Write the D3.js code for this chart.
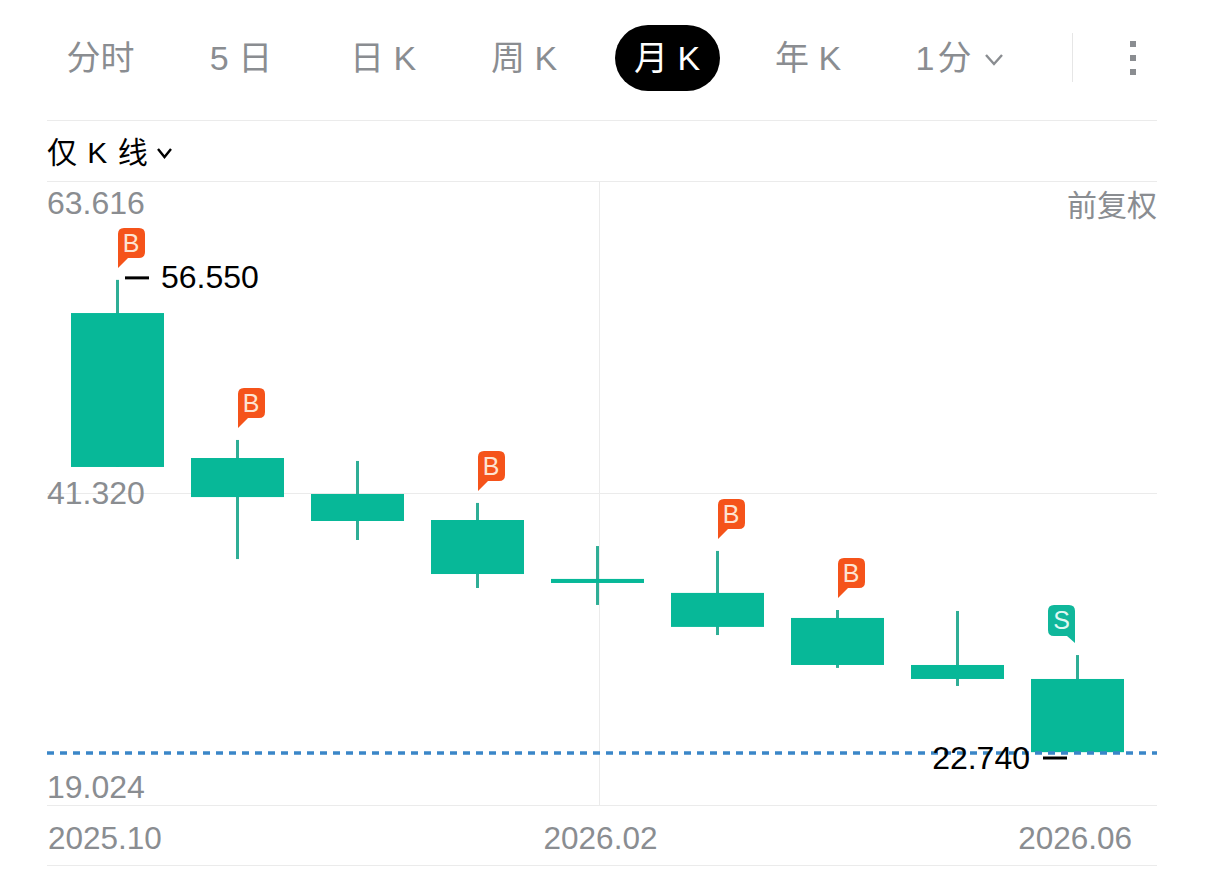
<!DOCTYPE html>
<html><head><meta charset="utf-8">
<script src="https://cdn.jsdelivr.net/npm/d3@7/dist/d3.min.js"></script>
<style>html,body{margin:0;padding:0;background:#fff}svg{display:block}text{font-family:"Liberation Sans","Noto Sans CJK SC",sans-serif}</style>
</head><body><svg id="c" width="1205" height="869"></svg>
<script>
const months=["2025.10","2025.11","2025.12","2026.01","2026.02","2026.03","2026.04","2026.05","2026.06"];
const opens=[54.18,43.82,41.25,39.39,35.18,34.18,32.39,29.03,28.03];
const closes=[43.18,41.03,39.32,35.53,34.89,31.75,29.03,28.03,22.80];
const highs=[56.55,45.11,43.61,40.61,37.53,37.18,32.96,32.89,29.74];
const lows=[43.18,36.60,37.96,34.53,33.32,31.17,28.82,27.53,22.74];
const signals=["B","B",null,"B",null,"B","B",null,"S"];
const yTicks=[63.616,41.320,19.024];
const xTickLabels=["2025.10","2026.02","2026.06"];
const tabs=["分时","5 日","日 K","周 K","月 K","年 K","1分"];
const activeTab="月 K";
const maxLabel=56.550, minLabel=22.740;

const GREY="#8a8d91",GRID="#ebebeb",GREEN="#07b898",WICK="#2fae96",ORANGE="#f5531a",S_GREEN="#10b79b";
const svg=d3.select("#c");
const L=47,R=1157;
const x=d3.scaleBand().domain(months).range([57.5,1137.5]).paddingInner(0.225).paddingOuter(0.1125);
const y=d3.scaleLinear().domain([19.024,63.616]).range([805,181]);
const cx=m=>x(m)+x.bandwidth()/2;

// frame rules
[120,181,493,805,865].forEach(v=>svg.append("line").attr("x1",L).attr("x2",R).attr("y1",v+.5).attr("y2",v+.5).attr("stroke",GRID));
svg.append("line").attr("x1",599.5).attr("x2",599.5).attr("y1",181).attr("y2",805).attr("stroke",GRID);

// tabs
const tabX=[100.5,241,383,524,667,808,945];
svg.append("rect").attr("x",615).attr("y",25).attr("width",105).attr("height",66).attr("rx",33).attr("fill","#000");
svg.selectAll(".tab").data(tabs).join("text").attr("class","tab")
  .attr("x",(d,i)=>tabX[i]).attr("y",70).attr("text-anchor","middle").attr("font-size",34)
  .attr("letter-spacing",d=>d==="1分"?3:0)
  .attr("fill",d=>d===activeTab?"#fff":GREY).text(d=>d);
const chev=(px,py,w,h,c,sw)=>svg.append("path").attr("d",`M${px},${py}L${px+w/2},${py+h}L${px+w},${py}`).attr("fill","none").attr("stroke",c).attr("stroke-width",sw);
chev(986,55,16,9,GREY,2.4);
svg.append("line").attr("x1",1072.5).attr("x2",1072.5).attr("y1",33).attr("y2",82).attr("stroke","#e6e6e6");
[44,58,72].forEach(v=>svg.append("rect").attr("x",1130).attr("y",v-3).attr("width",6).attr("height",6).attr("fill",GREY));

// selector
svg.append("text").attr("x",47).attr("y",163).attr("font-size",30).attr("letter-spacing",1).attr("fill","#000").text("仅 K 线");
chev(158,149,13,8,"#000",2.4);
svg.append("text").attr("x",1157).attr("y",216).attr("text-anchor","end").attr("font-size",30).attr("fill",GREY).text("前复权");

// y labels
const yLabelPos=[214,504,798];
svg.selectAll(".yl").data(yTicks).join("text").attr("class","yl").attr("x",47).attr("y",(d,i)=>yLabelPos[i])
  .attr("font-size",32).attr("fill",GREY).text(d=>d.toFixed(3));
// x labels
const anchors=[["start",48],["middle",600.5],["end",1132]];
svg.selectAll(".xl").data(xTickLabels).join("text").attr("class","xl").attr("x",(d,i)=>anchors[i][1]).attr("y",849)
  .attr("text-anchor",(d,i)=>anchors[i][0]).attr("font-size",31.5).attr("fill",GREY).text(d=>d);

// candles
const idx=d3.range(months.length);
svg.selectAll(".wick").data(idx).join("line").attr("class","wick")
  .attr("x1",i=>cx(months[i])).attr("x2",i=>cx(months[i])).attr("y1",i=>y(highs[i])).attr("y2",i=>y(lows[i]))
  .attr("stroke",WICK).attr("stroke-width",3);
svg.selectAll(".body").data(idx).join("rect").attr("class","body")
  .attr("x",i=>x(months[i])).attr("width",x.bandwidth())
  .attr("y",i=>y(opens[i])).attr("height",i=>y(closes[i])-y(opens[i])).attr("fill",GREEN);

// dashed price line
svg.append("line").attr("x1",L).attr("x2",R).attr("y1",y(minLabel)).attr("y2",y(minLabel))
  .attr("stroke","#3a86c8").attr("stroke-width",3.5).attr("stroke-dasharray","7 6");

// signal bubbles
idx.filter(i=>signals[i]).forEach(i=>{
  const s=signals[i],tipX=cx(months[i])+(s==="B"?0.5:-2.5),tipY=y(highs[i])-12;
  const g=svg.append("g");
  const w=27,r=6;
  const d = s==="B"
   ? `M${tipX},${tipY}V${tipY-40+r}q0,${-r} ${r},${-r}H${tipX+w-r}q${r},0 ${r},${r}V${tipY-10-r}q0,${r} ${-r},${r}H${tipX+10}Z`
   : `M${tipX},${tipY}L${tipX-8},${tipY-7}H${tipX-w+r}q${-r},0 ${-r},${-r}V${tipY-38+r}q0,${-r} ${r},${-r}H${tipX-r}q${r},0 ${r},${r}Z`;
  g.append("path").attr("d",d).attr("fill",s==="B"?ORANGE:S_GREEN);
  g.append("text").attr("x",s==="B"?tipX+13:tipX-13.5).attr("y",tipY-(s==="B"?16:14)).attr("text-anchor","middle")
    .attr("font-size",25).attr("fill",s==="B"?"#fde3d2":"#dff8f2").text(s);
});

// high / low callouts
svg.append("line").attr("x1",125).attr("x2",149).attr("y1",y(maxLabel)-2).attr("y2",y(maxLabel)-2).attr("stroke","#000").attr("stroke-width",3);
svg.append("text").attr("x",161).attr("y",y(maxLabel)+8).attr("font-size",32).attr("fill","#000").text(maxLabel.toFixed(3));
svg.append("line").attr("x1",1043).attr("x2",1067).attr("y1",y(minLabel)+5).attr("y2",y(minLabel)+5).attr("stroke","#000").attr("stroke-width",3);
svg.append("text").attr("x",1030).attr("y",y(minLabel)+16).attr("text-anchor","end").attr("font-size",32).attr("fill","#000").text(minLabel.toFixed(3));
</script></body></html>
